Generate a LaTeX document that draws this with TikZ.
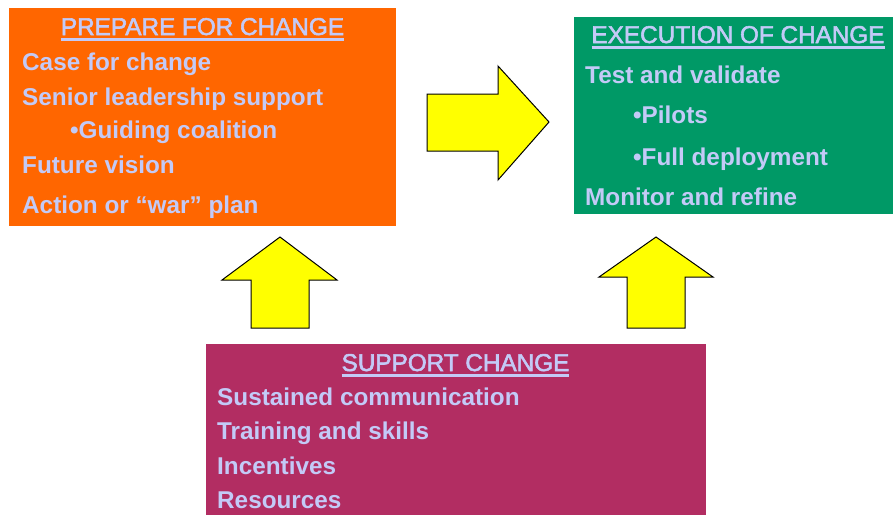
\documentclass[tikz,border=0pt]{standalone}
\usepackage{fontspec}
\setmainfont{Liberation Sans}
\definecolor{cOrange}{HTML}{FF6600}
\definecolor{cGreen}{HTML}{009966}
\definecolor{cMag}{HTML}{B22D62}
\definecolor{cText}{HTML}{C3CAF7}
\definecolor{cYel}{HTML}{FFFF00}
\newcommand\ulttl[1]{\setbox0\hbox{\special{pdf:literal direct 2 Tr 0.55 w}#1\special{pdf:literal direct 0 Tr}}\rlap{\rule[-5.6pt]{\wd0}{2.4pt}}\box0}
\begin{document}
\begin{tikzpicture}[x=1pt,y=-1pt,
  panel/.style={draw=none,inner sep=0pt,outer sep=0pt,anchor=north west},
  ttl/.style={anchor=base,inner sep=0pt,text=cText,font=\fontsize{24.3}{29}\selectfont},
  itm/.style={anchor=base west,inner sep=0pt,text=cText,font=\fontsize{24.3}{29}\selectfont\bfseries},
  bigarrow/.style={fill=cYel,draw=black,line width=1pt,line join=miter}]
\useasboundingbox (0,0) rectangle (893,515);
% panels
\node[panel,fill=cOrange,minimum width=387pt,minimum height=218pt] (prep) at (9,8) {};
\node[panel,fill=cGreen,minimum width=319pt,minimum height=197pt] (exec) at (574,17) {};
\node[panel,fill=cMag,minimum width=500pt,minimum height=171pt] (supp) at (206,344) {};
% prepare texts
\node[ttl] (t1) at (202.5,35) {\ulttl{PREPARE FOR CHANGE}};
\node[itm] (p1) at (22,70) {Case for change};
\node[itm] (p2) at (22,105) {Senior leadership support};
\node[itm] (p3) at (70,138) {•Guiding coalition};
\node[itm] (p4) at (22,173) {Future vision};
\node[itm] (p5) at (22,213) {Action or “war” plan};
% execution texts
\node[ttl] (t2) at (738,43) {\ulttl{EXECUTION OF CHANGE}};
\node[itm] (e1) at (585,83) {Test and validate};
\node[itm] (e2) at (633,123) {•Pilots};
\node[itm] (e3) at (633,165) {•Full deployment};
\node[itm] (e4) at (585,205) {Monitor and refine};
% support texts
\node[ttl] (t3) at (455.5,371) {\ulttl{SUPPORT CHANGE}};
\node[itm] (s1) at (217,405) {Sustained communication};
\node[itm] (s2) at (217,439) {Training and skills};
\node[itm] (s3) at (217,474) {Incentives};
\node[itm] (s4) at (217,508) {Resources};
% arrows
\draw[bigarrow] (427,94) -- (498,94) -- (498,66) -- (549,122) -- (498,180) -- (498,151) -- (427,151) -- cycle;
\draw[bigarrow] (251,328) -- (251,280) -- (222,280) -- (280,237) -- (337,280) -- (309,280) -- (309,328) -- cycle;
\draw[bigarrow] (627,328) -- (627,277) -- (599,277) -- (656,237) -- (713,277) -- (685,277) -- (685,328) -- cycle;
\end{tikzpicture}
\end{document}
